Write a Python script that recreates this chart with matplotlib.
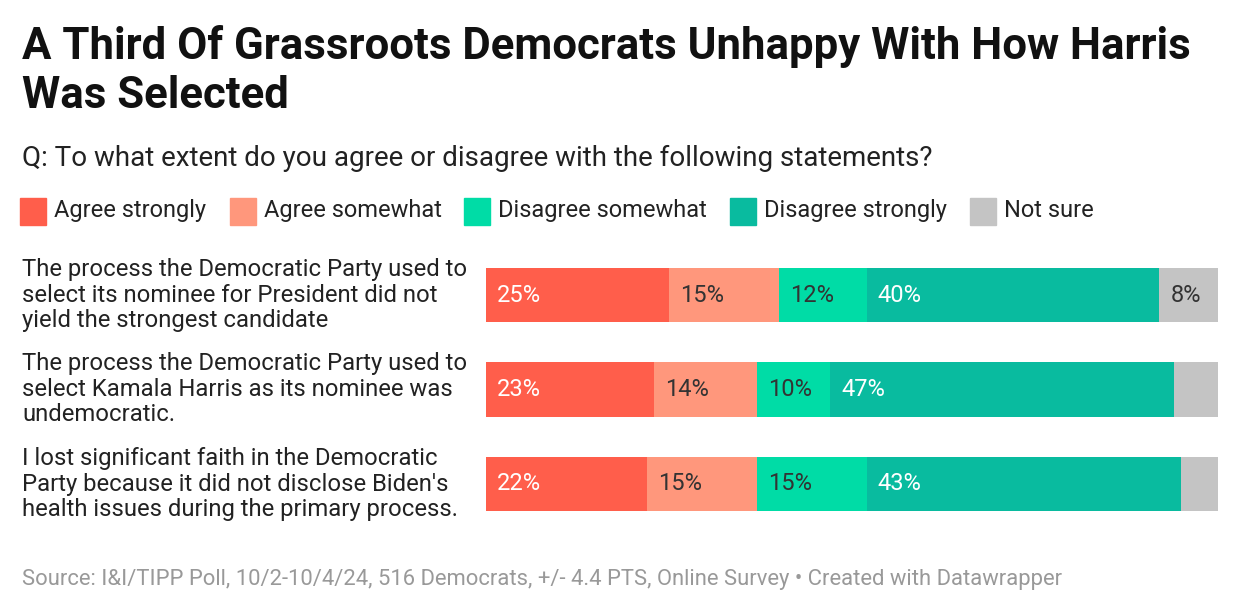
import matplotlib.pyplot as plt
from matplotlib.patches import Rectangle

plt.rcParams['font.family'] = ['Roboto', 'DejaVu Sans']

statements = [
    "The process the Democratic Party used to\nselect its nominee for President did not\nyield the strongest candidate",
    "The process the Democratic Party used to\nselect Kamala Harris as its nominee was\nundemocratic.",
    "I lost significant faith in the Democratic\nParty because it did not disclose Biden's\nhealth issues during the primary process.",
]
series = ["Agree strongly", "Agree somewhat", "Disagree somewhat", "Disagree strongly", "Not sure"]
agree_strongly = [25, 23, 22]
agree_somewhat = [15, 14, 15]
disagree_somewhat = [12, 10, 15]
disagree_strongly = [40, 47, 43]
not_sure = [8, 6, 5]
values = [agree_strongly, agree_somewhat, disagree_somewhat, disagree_strongly, not_sure]

colors = ["#ff5e4b", "#ff977c", "#00dca6", "#09bb9f", "#c4c4c4"]
label_colors = ["white", "#333333", "#333333", "white", "#333333"]

W, H = 1240, 614
fig = plt.figure(figsize=(12.4, 6.14), dpi=100)

def fx(px):
    return px / W

def fy(py):
    return 1 - py / H

# title + subtitle
fig.text(fx(22), fy(47), "A Third Of Grassroots Democrats Unhappy With How Harris",
         fontsize=31.5, fontweight='bold', va='center', color='#111111')
fig.text(fx(22), fy(96), "Was Selected",
         fontsize=31.5, fontweight='bold', va='center', color='#111111')
fig.text(fx(22), fy(158), "Q: To what extent do you agree or disagree with the following statements?",
         fontsize=20, va='center', color='#222222')

# legend
leg_x = [20, 230, 464, 730, 970]
for x, name, c in zip(leg_x, series, colors):
    fig.patches.append(Rectangle((fx(x), fy(225)), fx(26), 27 / H, color=c,
                                 transform=fig.transFigure, figure=fig))
    fig.text(fx(x + 34), fy(211), name, fontsize=17, va='center', color='#222222')

# bars
ax = fig.add_axes([fx(486), fy(531), fx(1218 - 486), (531 - 248) / H])
rows = range(len(statements))
left = [0] * len(statements)
for vals, c, lc in zip(values, colors, label_colors):
    ax.barh(rows, vals, left=left, height=54 / 94, color=c, linewidth=0)
    for i, v in enumerate(vals):
        if v >= 8:
            ax.text(left[i] + 1.5, i, f"{v}%", va='center', ha='left',
                    fontsize=17, color=lc)
    left = [l + v for l, v in zip(left, vals)]
ax.set_xlim(0, 100)
ax.set_ylim(2.5, -0.5)
ax.axis('off')

# statement labels
centers = [295, 389, 484]
for s, cy in zip(statements, centers):
    fig.text(fx(22), fy(cy), s, fontsize=17.2, va='center', ha='left',
             color='#222222', linespacing=1.16)

fig.text(fx(22), fy(580), "Source: I&I/TIPP Poll, 10/2-10/4/24, 516 Democrats, +/- 4.4 PTS, Online Survey \u2022 Created with Datawrapper",
         fontsize=15.8, va='center', color='#999999')

fig.savefig("out.png", dpi=100, facecolor='white')
